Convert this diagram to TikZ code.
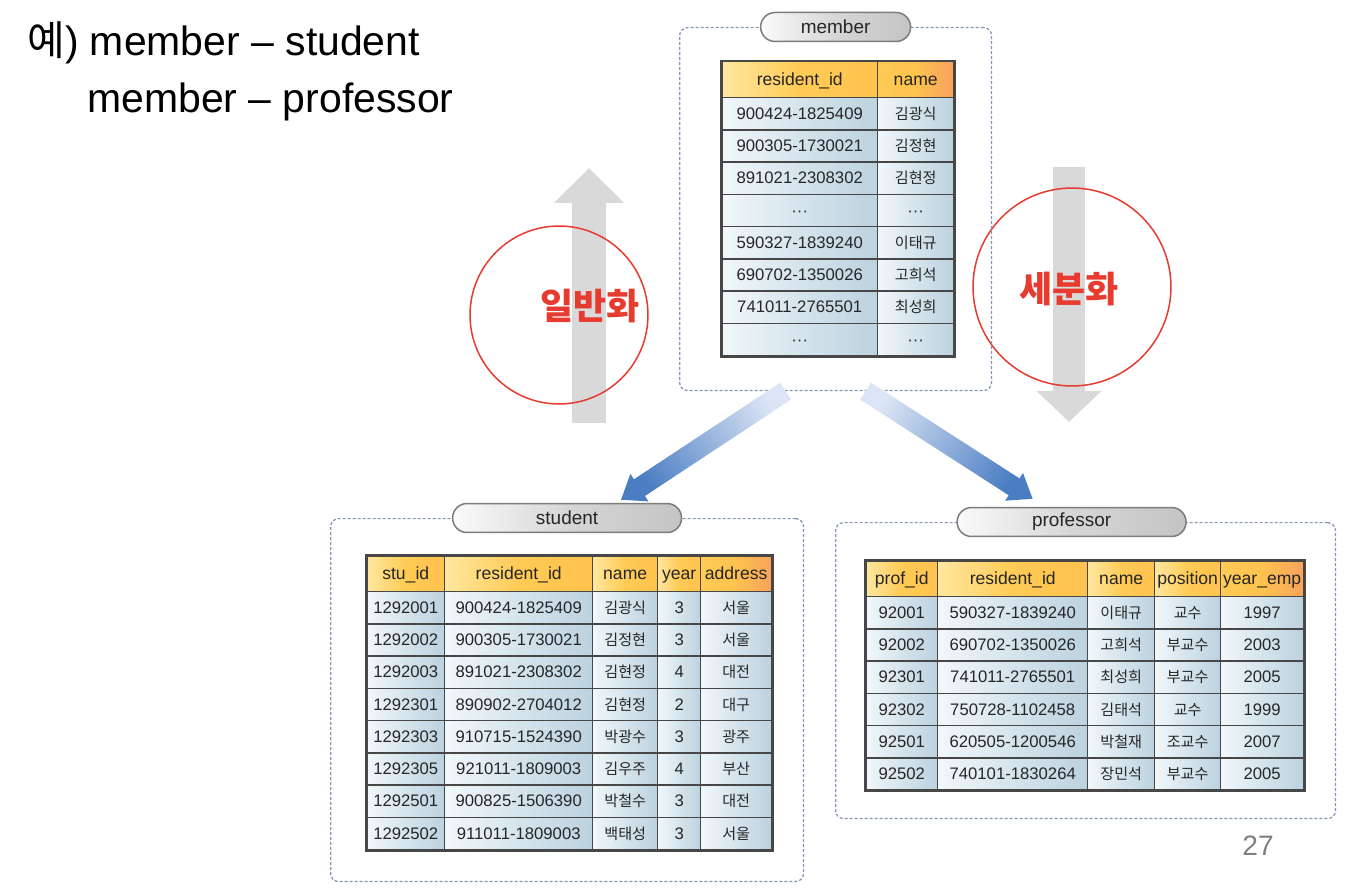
\documentclass[tikz,border=0pt]{standalone}
\usepackage{fontspec}
\setmainfont{Liberation Sans}
\newfontfamily\kr{Noto Sans CJK KR}
\usetikzlibrary{arrows.meta,positioning,calc,matrix}
\definecolor{BoxDash}{HTML}{8595B5}
\definecolor{PillLine}{HTML}{7C7C7C}
\definecolor{PillL}{HTML}{FAFAFA}
\definecolor{PillM}{HTML}{D6D6D6}
\definecolor{PillR}{HTML}{C4C4C4}
\definecolor{TblLine}{HTML}{474747}
\definecolor{CellL}{HTML}{F2F7FA}
\definecolor{CellM}{HTML}{D5E4EC}
\definecolor{CellR}{HTML}{BCD2DF}
\definecolor{HeadL}{HTML}{FFE7A0}
\definecolor{HeadM}{HTML}{FFCB55}
\definecolor{HeadR}{HTML}{FFC24E}
\definecolor{HeadEnd}{HTML}{F7A35C}
\definecolor{ArrowGray}{HTML}{D9D9D9}
\definecolor{MarkRed}{HTML}{E63B2E}
\definecolor{FlowLight}{HTML}{DCE5F5}
\definecolor{FlowDark}{HTML}{4A7DC2}
\definecolor{PageGray}{HTML}{808080}
\definecolor{Ink}{HTML}{262626}
\newcommand\cellfont{\fontsize{9.5}{11}\selectfont}
\newcommand\headfont{\fontsize{10}{12}\selectfont}
\newcommand\pillfont{\fontsize{10.8}{13}\selectfont}
\newcommand\titlefont{\fontsize{23.3}{28}\selectfont}
\newcommand\krcell{\kr\fontsize{8.6}{10}\selectfont}

\begin{document}
\begin{tikzpicture}[x=0.02cm,y=-0.02cm,font=\cellfont,groupbox/.style={draw=BoxDash,dash pattern=on 0.06cm off 0.04cm,line width=0.025cm,rounded corners=0.16cm,anchor=north west,inner sep=0pt},pill/.style={draw=PillLine,line width=0.03cm,rounded corners=0.29cm,minimum height=0.58cm,left color=PillL,right color=PillR,middle color=PillM,font=\pillfont,text=Ink,inner sep=0pt},cell/.style={draw=TblLine,line width=0.03cm,left color=CellL,right color=CellR,middle color=CellM,minimum height=0.645cm,anchor=center,inner sep=0.5pt,outer sep=0pt,text height=1.55ex,text depth=0.35ex,text=Ink},header/.style={left color=HeadL,right color=HeadR,middle color=HeadM,minimum height=0.72cm,font=\headfont},headlast/.style={left color=HeadM,right color=HeadEnd,middle color=HeadR},tbl/.style={matrix of nodes,ampersand replacement=\&,row sep=-0.03cm,column sep=-0.03cm,inner sep=0pt,outer sep=0pt,anchor=north west,nodes={cell},row 1/.style={nodes={header}}},frame/.style={draw=TblLine,line width=0.05cm},ring/.style={circle,draw=MarkRed,line width=0.03cm,inner sep=0pt},redword/.style={font=\kr\bfseries\fontsize{20.5}{24}\selectfont,text=MarkRed}]
\fill[white] (0,0) rectangle (1356,888);
% gray direction arrows
\coordinate (upS) at (589,423);
\coordinate (upT) at (589,168);
\coordinate (downS) at (1069,167);
\coordinate (downT) at (1069,422);
\draw[line width=0.68cm,draw=ArrowGray,-{Triangle[length=0.7cm,width=1.36cm]}] (upS) -- (upT);
\draw[line width=0.64cm,draw=ArrowGray,-{Triangle[length=0.62cm,width=1.26cm]}] (downS) -- (downT);
\node[ring,minimum size=3.56cm] (genring) at (559,315) {};
\node[ring,minimum size=3.96cm] (specring) at (1072,287) {};
\node[redword] (genword) at (590,306) {일반화};
\node[redword] (specword) at (1069,289) {세분화};
% group boxes
\node[groupbox,minimum width=6.24cm,minimum height=7.26cm] (memberbox) at (679,27) {};
\node[groupbox,minimum width=9.46cm,minimum height=7.26cm] (studentbox) at (330,518) {};
\node[groupbox,minimum width=10cm,minimum height=5.92cm] (profbox) at (835,522) {};
\node[pill,minimum width=3cm] (memberlbl) at (memberbox.north) {member};
\node[pill,minimum width=4.58cm] (studentlbl) at (studentbox.north) {student};
\node[pill,minimum width=4.58cm] (proflbl) at ($(profbox.north)+(-14,0)$) {professor};
% tables
\matrix[tbl,column 1/.style={nodes={minimum width=3.12cm}},column 2/.style={nodes={minimum width=1.52cm,font=\krcell}}] (membertbl) at (721,61) {
resident\_id \& |[headlast]| name \\
900424-1825409 \& 김광식 \\
900305-1730021 \& 김정현 \\
891021-2308302 \& 김현정 \\
··· \& |[font=\cellfont]| ··· \\
590327-1839240 \& 이태규 \\
690702-1350026 \& 고희석 \\
741011-2765501 \& 최성희 \\
··· \& |[font=\cellfont]| ··· \\
};
\draw[frame] (membertbl.north west) rectangle (membertbl.south east);
\matrix[tbl,column 1/.style={nodes={minimum width=1.56cm}},column 2/.style={nodes={minimum width=2.96cm}},column 3/.style={nodes={minimum width=1.3cm,font=\krcell}},column 4/.style={nodes={minimum width=0.86cm}},column 5/.style={nodes={minimum width=1.42cm,font=\krcell}}] (studenttbl) at (366,555) {
stu\_id \& resident\_id \& name \& year \& |[headlast]| address \\
1292001 \& 900424-1825409 \& 김광식 \& 3 \& 서울 \\
1292002 \& 900305-1730021 \& 김정현 \& 3 \& 서울 \\
1292003 \& 891021-2308302 \& 김현정 \& 4 \& 대전 \\
1292301 \& 890902-2704012 \& 김현정 \& 2 \& 대구 \\
1292303 \& 910715-1524390 \& 박광수 \& 3 \& 광주 \\
1292305 \& 921011-1809003 \& 김우주 \& 4 \& 부산 \\
1292501 \& 900825-1506390 \& 박철수 \& 3 \& 대전 \\
1292502 \& 911011-1809003 \& 백태성 \& 3 \& 서울 \\
};
\draw[frame] (studenttbl.north west) rectangle (studenttbl.south east);
\matrix[tbl,column 1/.style={nodes={minimum width=1.44cm}},column 2/.style={nodes={minimum width=3cm}},column 3/.style={nodes={minimum width=1.34cm,font=\krcell}},column 4/.style={nodes={minimum width=1.32cm,font=\krcell}},column 5/.style={nodes={minimum width=1.66cm}}] (proftbl) at (865,560) {
prof\_id \& resident\_id \& name \& position \& |[headlast]| year\_emp \\
92001 \& 590327-1839240 \& 이태규 \& 교수 \& 1997 \\
92002 \& 690702-1350026 \& 고희석 \& 부교수 \& 2003 \\
92301 \& 741011-2765501 \& 최성희 \& 부교수 \& 2005 \\
92302 \& 750728-1102458 \& 김태석 \& 교수 \& 1999 \\
92501 \& 620505-1200546 \& 박철재 \& 조교수 \& 2007 \\
92502 \& 740101-1830264 \& 장민석 \& 부교수 \& 2005 \\
};
\draw[frame] (proftbl.north west) rectangle (proftbl.south east);
% blue flow arrows
\coordinate (flowLs) at ($(memberbox.south)+(-50,0)$);
\coordinate (flowLt) at ($(studentlbl.north)+(54,-3)$);
\coordinate (flowRs) at ($(memberbox.south)+(30,0)$);
\coordinate (flowRt) at ($(proflbl.north)+(-39,-8)$);
\foreach \s/\t/\ang in {flowLs/flowLt/-56.3,flowRs/flowRt/56.6}{
  \coordinate (hb) at ($(\t)!0.44cm!(\s)$);
  \shade[top color=FlowLight,bottom color=FlowDark,shading angle=\ang] ($(\s)!0.2cm!90:(\t)$) -- ($(hb)!0.2cm!90:(\t)$) -- ($(hb)!0.33cm!90:(\t)$) -- (\t) -- ($(hb)!0.33cm!-90:(\t)$) -- ($(hb)!0.2cm!-90:(\t)$) -- ($(\s)!0.2cm!-90:(\t)$) -- cycle;
}
% heading and page number
\node[anchor=base west,inner sep=0pt,font=\titlefont,text=black] (title1) at (27,56) {{\kr 예}) member – student};
\node[anchor=base west,inner sep=0pt,font=\titlefont,text=black] (title2) at (87,113) {member – professor};
\node[anchor=base,font=\fontsize{16}{19}\selectfont,text=PageGray] (pageno) at (1258,855) {27};
\end{tikzpicture}
\end{document}
